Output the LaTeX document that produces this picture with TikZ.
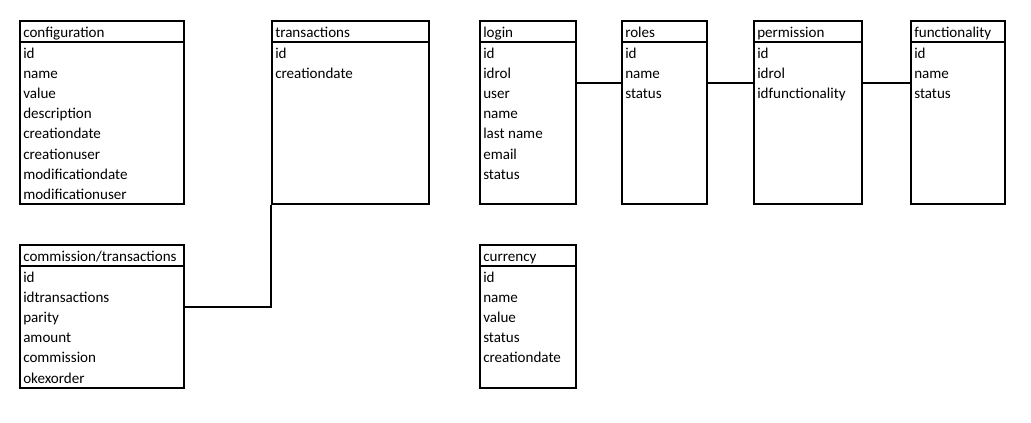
\documentclass[tikz,border=0pt]{standalone}
\usepackage{fontspec}
\setmainfont{Carlito}
\tikzset{
  tblline/.style={line width=1.5pt},
  hdr/.style={draw, tblline, rectangle, inner sep=0pt},
  bodybox/.style={draw, tblline, rectangle, inner sep=0pt},
  rowtext/.style={anchor=base west, inner sep=0pt, font=\fontsize{11.3pt}{13pt}\selectfont},
  conn/.style={line width=1.5pt}
}
% #1 name, #2 x1, #3 x2, #4 ytop, #5 yhead, #6 ybot, #7 title, #8 rows, #9 first row baseline y
\newcommand\tablebox[9]{%
  \node[hdr, minimum width={(#3-#2)*0.75pt}, minimum height={(#5-#4)*0.75pt}]
    (#1h) at ({(#2+#3)/2},{(#4+#5)/2}) {};
  \node[bodybox, minimum width={(#3-#2)*0.75pt}, minimum height={(#6-#5)*0.75pt}]
    (#1) at ({(#2+#3)/2},{(#5+#6)/2}) {};
  \node[rowtext] (#1title) at ({#2+3},{#5-5}) {#7};
  \foreach \t [count=\i] in {#8} {
    \node[rowtext] (#1r\i) at ({#2+3},{#9+20.2*(\i-1)}) {\t};
  }
}
\begin{document}
\begin{tikzpicture}[x=0.75pt,y=-0.75pt]
\useasboundingbox (0,0) rectangle (1031,422);
\tablebox{conf}{20}{184}{21}{42}{204}{configuration}{id,name,value,description,creationdate,creationuser,modificationdate,modificationuser}{58}
\tablebox{trans}{272}{429}{21}{42}{204}{transactions}{id,creationdate}{58}
\tablebox{login}{480}{576}{21}{42}{204}{login}{id,idrol,user,name,last name,email,status}{58}
\tablebox{roles}{622}{707}{21}{42}{204}{roles}{id,name,status}{58}
\tablebox{perm}{754}{862}{21}{42}{204}{permission}{id,idrol,idfunctionality}{58}
\tablebox{func}{911}{1005}{21}{42}{204}{functionality}{id,name,status}{58}
\tablebox{comm}{20}{184}{245}{266}{388}{commission/transactions}{id,idtransactions,parity,amount,commission,okexorder}{282}
\tablebox{curr}{480}{576}{245}{266}{388}{currency}{id,name,value,status,creationdate}{282}
% connectors
\draw[conn] (login.east |- 0,83) -- (roles.west |- 0,83);
\draw[conn] (roles.east |- 0,83) -- (perm.west |- 0,83);
\draw[conn] (perm.east |- 0,83) -- (func.west |- 0,83);
\draw[conn] (trans.south west) -- (trans.south west |- 0,307) -- (comm.east |- 0,307);
\end{tikzpicture}
\end{document}
